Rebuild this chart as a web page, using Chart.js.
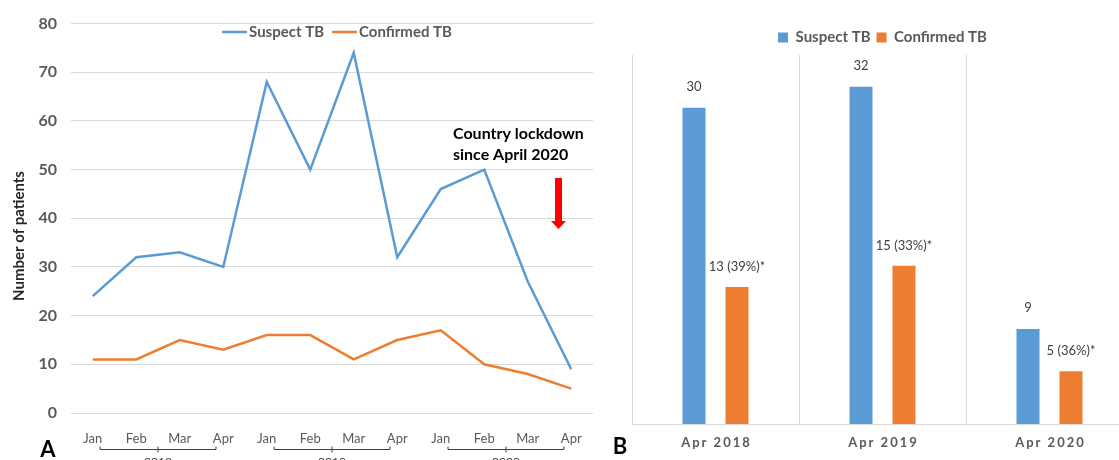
<!DOCTYPE html>
<html>
<head>
<meta charset="utf-8">
<script src="https://cdn.jsdelivr.net/npm/chart.js@4.4.0/dist/chart.umd.min.js"></script>
<style>
html,body{margin:0;padding:0;background:#fff;overflow:hidden;width:1119px;height:460px}
#wrapA{position:absolute;left:0;top:0;width:600px;height:460px}
#wrapB{position:absolute;left:600px;top:0;width:533px;height:460px}
</style>
</head>
<body>
<div id="wrapA"><canvas id="chartA"></canvas></div>
<div id="wrapB"><canvas id="chartB"></canvas></div>
<script>
//----------------------------- donnees -----------------------------
var months = ['Jan','Feb','Mar','Apr','Jan','Feb','Mar','Apr','Jan','Feb','Mar','Apr'];
var years = ['2018','2019','2020'];
var suspect_monthly = [24,32,33,30,68,50,74,32,46,50,27,9];
var confirmed_monthly = [11,11,15,13,16,16,11,15,17,10,8,5];
var y_ticks_left = [0,10,20,30,40,50,60,70,80];

var apr_labels = ['Apr 2018','Apr 2019','Apr 2020'];
var suspect_apr = [30,32,9];
var confirmed_apr = [13,15,5];
var confirmed_pct = [39,33,36];

var blue = '#5b9bd5', orange = '#ed7d31', grey = '#595959';

//----------------------------- chart A (line) -----------------------------
var extrasA = {
	id: 'extrasA',
	afterDraw: function(chart){
		var ctx = chart.ctx, x = chart.scales.x;
		ctx.save();
		// legende (dans la zone du graphe)
		ctx.font = 'bold 15px Lato'; ctx.textBaseline = 'middle'; ctx.textAlign = 'left';
		var items = chart.data.datasets.map(function(d){ return { txt: d.label, col: d.borderColor, w: ctx.measureText(d.label).width }; });
		var total = 0;
		items.forEach(function(it, k){ total += 25 + 2 + it.w + (k ? 8 : 0); });
		var lx = 337 - total/2, ly = 32;
		items.forEach(function(it){
			ctx.strokeStyle = it.col; ctx.lineWidth = 2.5;
			ctx.beginPath(); ctx.moveTo(lx, ly); ctx.lineTo(lx + 25, ly); ctx.stroke();
			ctx.fillStyle = grey;
			ctx.fillText(it.txt, lx + 27, ly);
			lx += 25 + 2 + it.w + 8;
		});
		// accolades des annees
		ctx.strokeStyle = '#404040'; ctx.lineWidth = 1;
		ctx.fillStyle = '#404040'; ctx.font = '12px Lato';
		ctx.textAlign = 'center'; ctx.textBaseline = 'middle';
		for (var i = 0; i < years.length; i++){
			var cx = (x.getPixelForValue(i*4) + x.getPixelForValue(i*4+3))/2;
			var x0 = cx-58, x1 = cx+58, yb = 449.5;
			ctx.beginPath();
			ctx.moveTo(x0, yb-3); ctx.lineTo(x0, yb); ctx.lineTo(x1, yb); ctx.lineTo(x1, yb-3);
			ctx.moveTo(cx, yb-3); ctx.lineTo(cx, yb+3);
			ctx.stroke();
			ctx.fillText(years[i], cx, 462);
		}
		// titre axe y
		ctx.save();
		ctx.translate(19, 236); ctx.rotate(-Math.PI/2);
		ctx.fillStyle = '#262626'; ctx.font = 'bold 15px Lato';
		ctx.fillText('Number of patients', 0, 0);
		ctx.restore();
		// lettre A
		ctx.fillStyle = '#000'; ctx.font = 'bold 22px Lato';
		ctx.fillText('A', 48, 450);
		// annotation confinement
		ctx.textAlign = 'left';
		ctx.font = 'bold 16px Lato'; ctx.fillStyle = '#000';
		ctx.fillText('Country lockdown', 453, 134);
		ctx.fillText('since April 2020', 453, 155);
		ctx.fillStyle = '#ff0000';
		ctx.fillRect(555, 178, 7, 44);
		ctx.beginPath();
		ctx.moveTo(551, 221); ctx.lineTo(566, 221); ctx.lineTo(558.5, 229); ctx.closePath();
		ctx.fill();
		ctx.restore();
	}
};

new Chart(document.getElementById('chartA'), {
	type: 'line',
	data: {
		labels: months,
		datasets: [
			{ label: 'Suspect TB', data: suspect_monthly, borderColor: blue, backgroundColor: blue, borderWidth: 2.5, pointRadius: 0, tension: 0, fill: false },
			{ label: 'Confirmed TB', data: confirmed_monthly, borderColor: orange, backgroundColor: orange, borderWidth: 2.5, pointRadius: 0, tension: 0, fill: false }
		]
	},
	options: {
		responsive: true,
		maintainAspectRatio: false,
		animation: false,
		layout: { padding: { top: 19, right: 7, left: 0, bottom: 0 } },
		plugins: {
			legend: { display: false },
			tooltip: { enabled: false }
		},
		scales: {
			x: {
				offset: true,
				grid: { display: false },
				border: { display: false },
				ticks: { color: grey, font: { family: 'Lato', size: 13 }, padding: 10, autoSkip: false, maxRotation: 0 },
				afterFit: function(s){ s.height = 47; }
			},
			y: {
				min: 0, max: 80,
				afterBuildTicks: function(s){ s.ticks = y_ticks_left.map(function(v){ return { value: v }; }); },
				grid: { color: '#d9d9d9', drawTicks: false },
				border: { display: false },
				ticks: { color: grey, font: { family: 'Lato', size: 16, weight: 'bold' }, padding: 14 },
				afterFit: function(s){ s.width = 71; }
			}
		}
	},
	plugins: [extrasA]
});

//----------------------------- chart B (bar) -----------------------------
var extrasB = {
	id: 'extrasB',
	afterDatasetsDraw: function(chart){
		var ctx = chart.ctx;
		ctx.save();
		ctx.fillStyle = '#404040'; ctx.font = '13px Lato';
		ctx.textAlign = 'center'; ctx.textBaseline = 'middle';
		chart.getDatasetMeta(0).data.forEach(function(bar, i){
			ctx.fillText(String(suspect_apr[i]), bar.x, bar.y - 21);
		});
		chart.getDatasetMeta(1).data.forEach(function(bar, i){
			ctx.fillText(confirmed_apr[i] + ' (' + confirmed_pct[i] + '%)*', bar.x, bar.y - 20);
		});
		ctx.restore();
	},
	afterDraw: function(chart){
		var ctx = chart.ctx, x = chart.scales.x;
		ctx.save();
		ctx.fillStyle = grey; ctx.font = 'bold 13px Lato';
		ctx.textAlign = 'center'; ctx.textBaseline = 'middle';
		ctx.letterSpacing = '2px';
		for (var i = 0; i < apr_labels.length; i++){
			ctx.fillText(apr_labels[i], x.getPixelForValue(i) + 1, 443);
		}
		ctx.letterSpacing = '0px';
		ctx.fillStyle = '#000'; ctx.font = 'bold 22px Lato';
		ctx.fillText('B', 20, 447);
		ctx.restore();
	}
};

new Chart(document.getElementById('chartB'), {
	type: 'bar',
	data: {
		labels: apr_labels,
		datasets: [
			{ label: 'Suspect TB', data: suspect_apr, backgroundColor: blue, categoryPercentage: 0.515, barPercentage: 0.535 },
			{ label: 'Confirmed TB', data: confirmed_apr, backgroundColor: orange, categoryPercentage: 0.515, barPercentage: 0.535 }
		]
	},
	options: {
		responsive: true,
		maintainAspectRatio: false,
		animation: false,
		layout: { padding: { top: 24, right: 0, left: 32, bottom: 0 } },
		plugins: {
			legend: {
				position: 'top',
				labels: { boxWidth: 10, boxHeight: 10, color: grey, font: { family: 'Lato', size: 15, weight: 'bold' }, padding: 6 }
			},
			tooltip: { enabled: false }
		},
		scales: {
			x: {
				grid: { color: '#d9d9d9', drawTicks: false, offset: true },
				border: { color: '#d9d9d9' },
				ticks: { display: false },
				afterFit: function(s){ s.height = 36; }
			},
			y: { display: false, min: 0, max: 35 }
		}
	},
	plugins: [extrasB]
});
</script>
</body>
</html>
